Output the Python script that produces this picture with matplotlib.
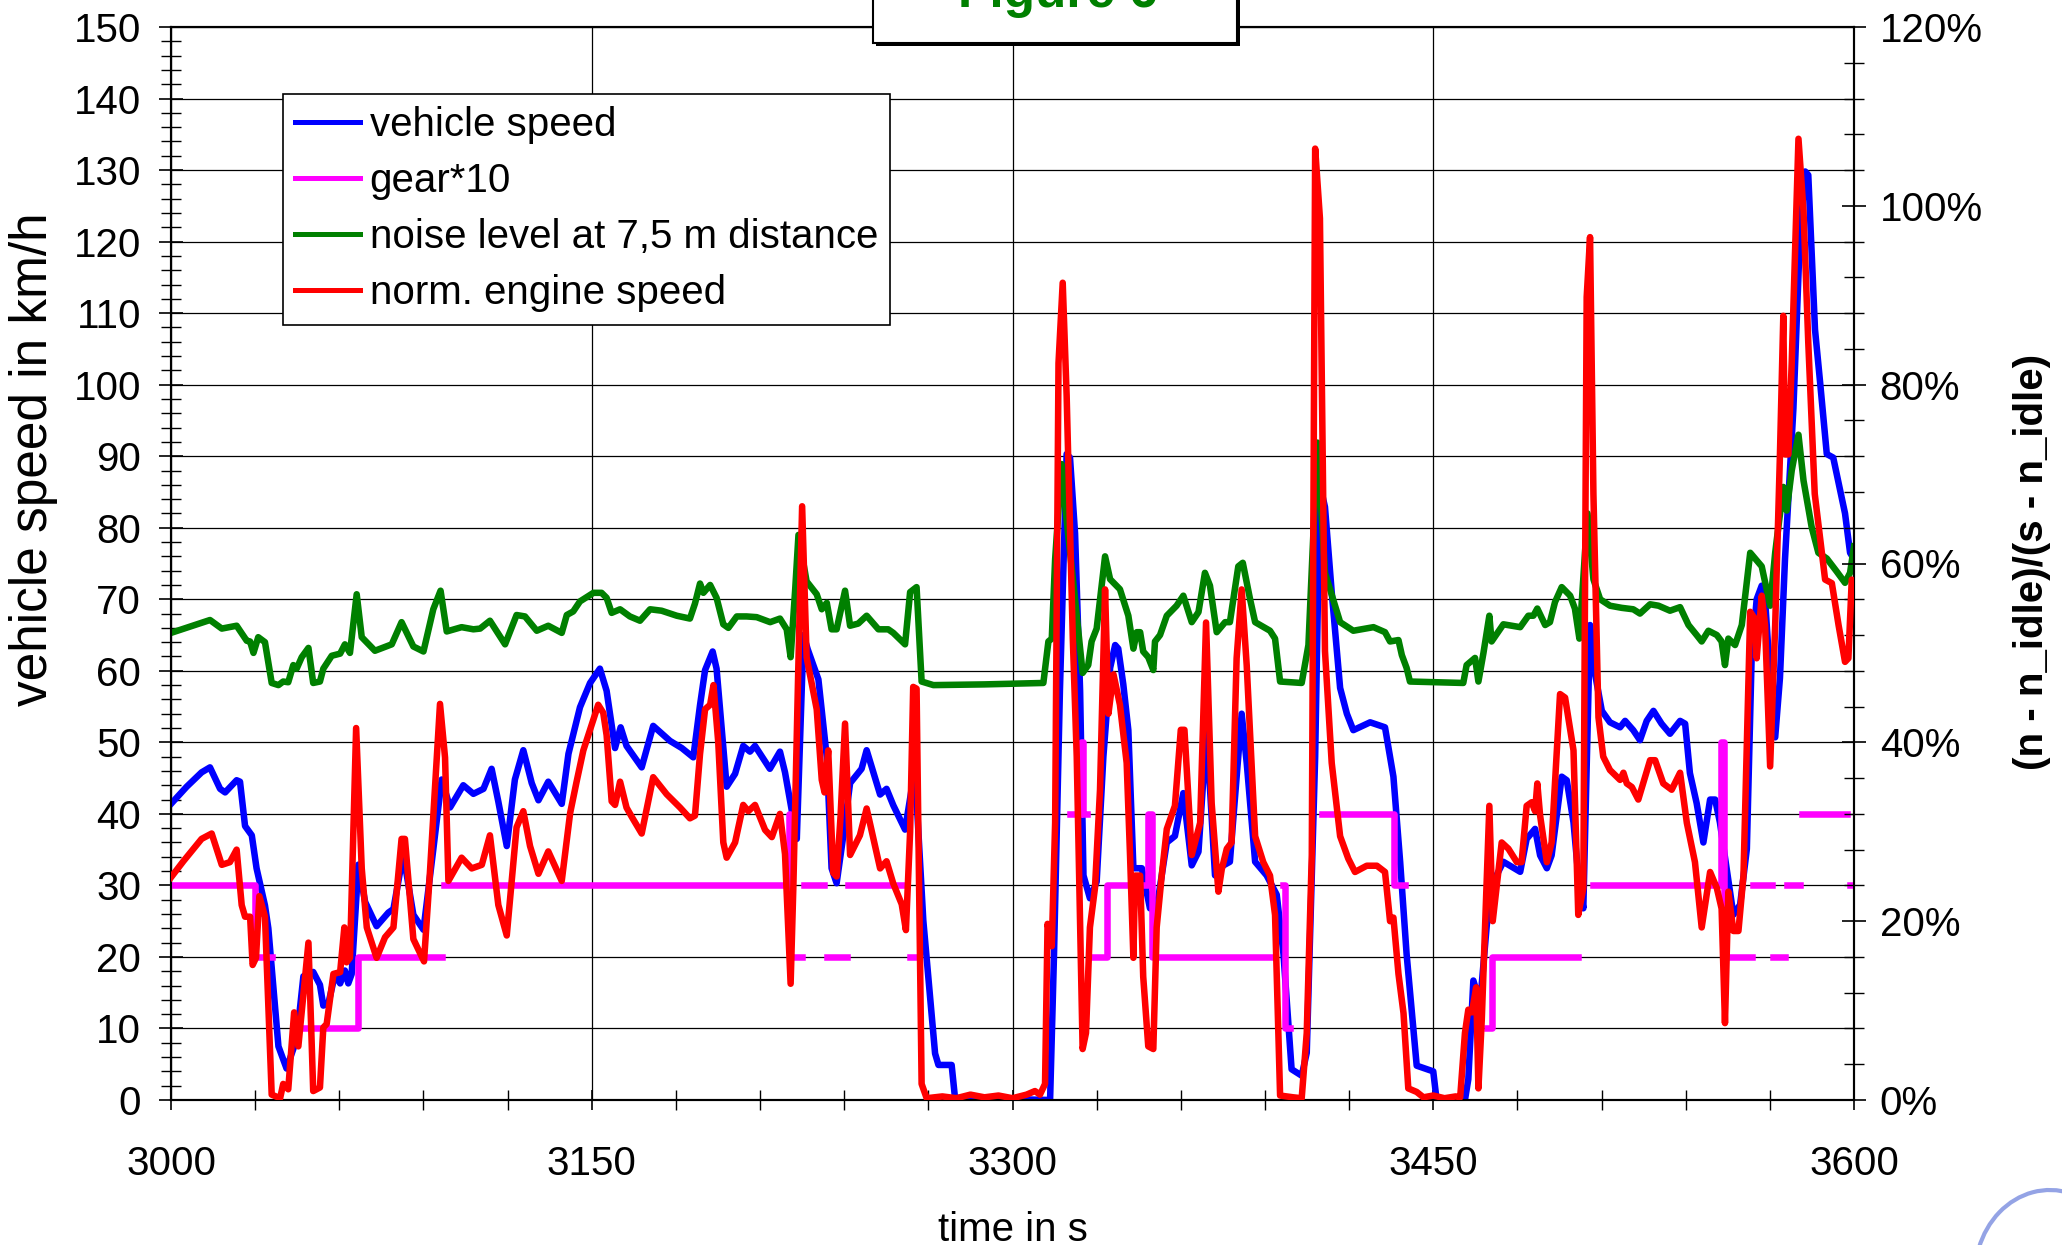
import numpy as np
import matplotlib
matplotlib.use("Agg")
import matplotlib.pyplot as plt
from matplotlib.patches import Rectangle, Arc
from matplotlib.ticker import MultipleLocator, FuncFormatter

plt.rcParams['font.family'] = ['Liberation Sans', 'DejaVu Sans']

nan = np.nan

# ---------------- data ----------------
speed_t = [3000, 3005.6, 3010.9, 3013.9, 3017.5, 3019.3, 3023.4, 3024.6, 3026.4, 3028.8, 3030.5, 3033.5,
           3034.7, 3038.3, 3041.2, 3044.8, 3047.2, 3050.7, 3053.1, 3054.3, 3056.1, 3058.5, 3060.3, 3062.0,
           3063.2, 3064.4, 3066.8, 3069.2, 3073.3, 3077.5, 3079.3, 3082.8, 3086.4, 3090.0, 3093.5, 3096.5,
           3099.5, 3104.2, 3107.8, 3111.4, 3114.3, 3116.7, 3119.7, 3122.6, 3125.6, 3128.6, 3131.0, 3134.5,
           3139.3, 3141.7, 3145.8, 3149.4, 3152.9, 3155.3, 3158.3, 3160.3, 3162.4, 3167.8, 3171.9, 3177.9,
           3182.1, 3186.2, 3188.6, 3190.4, 3193.1, 3194.5, 3198.1, 3201.1, 3204.0, 3206.4, 3208.2, 3213.5,
           3217.1, 3218.9, 3223.1, 3225.5, 3227.0, 3230.8, 3233.8, 3235.5, 3237.3, 3239.7, 3242.1, 3246.2,
           3248.0, 3252.8, 3255.1, 3257.5, 3261.7, 3265.2, 3268.2, 3272.4, 3273.6, 3278.3, 3279.5, 3313.4,
           3314.8, 3316.9, 3319.3, 3320.5, 3322.3, 3324.1, 3325.3, 3327.6, 3330.0, 3332.4, 3334.8, 3336.6,
           3337.7, 3339.5, 3341.3, 3343.1, 3346.1, 3349.0, 3351.4, 3355.0, 3357.9, 3360.9, 3363.9, 3366.3,
           3369.2, 3372.2, 3375.2, 3377.5, 3381.7, 3383.5, 3386.5, 3390.6, 3394.2, 3396.6, 3399.5, 3403.1,
           3404.9, 3407.9, 3409.6, 3411.4, 3413.8, 3416.8, 3419.2, 3421.5, 3427.5, 3432.8, 3435.8, 3438.2,
           3440.5, 3444.1, 3450.0, 3451.2, 3461.3, 3462.5, 3464.3, 3466.7, 3469.1, 3471.4, 3475.0, 3481.0,
           3483.3, 3486.3, 3488.1, 3490.5, 3492.2, 3495.8, 3497.6, 3500.0, 3501.7, 3503.5, 3505.9, 3507.1,
           3510.1, 3513.0, 3516.6, 3518.4, 3521.3, 3523.7, 3526.1, 3528.5, 3531.4, 3534.4, 3538.0, 3539.8,
           3541.5, 3543.9, 3546.3, 3548.7, 3550.5, 3552.2, 3554.6, 3557.0, 3559.4, 3561.8, 3563.5, 3565.3,
           3567.1, 3568.3, 3570.1, 3571.9, 3573.6, 3575.4, 3578.4, 3580.8, 3582.6, 3583.7, 3586.1, 3587.9,
           3590.3, 3592.6, 3596.8, 3598.6, 3600.0]
speed_v = [41.4, 43.8, 45.8, 46.5, 43.5, 43.0, 44.7, 44.5, 38.3, 37.0, 32.4, 27.2,
           24.0, 7.5, 4.4, 8.5, 17.3, 17.9, 16.1, 13.2, 13.5, 17.6, 16.3, 18.1,
           16.3, 17.6, 32.9, 27.7, 24.3, 26.2, 26.7, 34.4, 25.9, 23.8, 35.0, 44.8,
           40.9, 44.0, 42.8, 43.5, 46.3, 41.7, 35.5, 44.8, 48.9, 44.3, 41.9, 44.5,
           41.4, 48.4, 54.9, 58.3, 60.3, 57.2, 49.2, 52.1, 49.5, 46.5, 52.3, 50.2,
           49.2, 47.9, 55.2, 60.1, 62.7, 60.3, 43.8, 45.6, 49.5, 48.7, 49.5, 46.3,
           48.7, 45.8, 36.5, 65.0, 63.0, 58.8, 47.9, 32.4, 30.3, 37.0, 44.3, 46.3,
           48.9, 42.7, 43.5, 41.2, 37.8, 46.3, 25.1, 6.5, 4.9, 4.9, 0.3, 0.0,
           20.4, 57.2, 90.3, 89.8, 79.2, 57.2, 31.4, 28.2, 30.5, 48.0, 60.4, 63.6,
           63.1, 58.1, 51.7, 32.4, 32.4, 26.8, 26.8, 36.0, 36.9, 42.9, 32.8, 34.7,
           51.7, 31.4, 32.8, 33.3, 54.0, 47.1, 33.3, 31.4, 28.7, 20.4, 4.3, 3.4,
           6.6, 48.0, 86.0, 82.9, 71.0, 57.6, 54.0, 51.7, 52.8, 52.1, 45.2, 33.3,
           20.4, 4.8, 4.0, 0.0, 0.0, 2.9, 16.7, 13.5, 24.5, 30.5, 33.3, 31.9,
           36.5, 37.9, 34.2, 32.4, 34.2, 45.2, 44.7, 38.8, 31.4, 26.8, 66.4, 60.8,
           54.4, 52.8, 52.1, 53.0, 51.7, 50.3, 53.0, 54.4, 52.6, 51.2, 53.0, 52.6,
           45.7, 41.5, 36.0, 42.0, 42.0, 38.8, 32.4, 25.9, 27.3, 35.1, 61.8, 70.0,
           71.9, 70.0, 59.0, 50.7, 59.0, 75.6, 96.7, 121.5, 129.8, 129.3, 107.7, 100.4,
           90.3, 89.8, 82.0, 76.5, 75.6]

gear_t = [3000, 3030, 3036, 3046, 3066.5, 3096.5, 3097.5, 3220.3, 3220.8, 3225, 3225.7, 3232.8,
          3233.8, 3240.9, 3241.5, 3261.3, 3263.5, 3265.8, 3320.5, 3324.5, 3325.3, 3326.5, 3328.8,
          3333.6, 3348.2, 3349.8, 3392.4, 3396.3, 3397.0, 3399.0, 3410.2, 3436.0, 3440.0, 3469.0,
          3471.0, 3501.7, 3507.1, 3552.5, 3553.8, 3563.5, 3564.1, 3570.7, 3571.3, 3575.4, 3576.0,
          3580.8, 3581.4, 3597.4, 3598.6, 3600.0]
gear_v = [30, 20, nan, 10, 20, nan, 30, 40, 20, nan, 30, nan,
          20, nan, 30, nan, 20, nan, 40, 50, 40, nan, 20,
          30, 40, 20, nan, 30, 10, nan, 40, 30, nan, 10,
          20, nan, 30, 50, 20, nan, 30, nan, 20, nan, 30,
          nan, 40, nan, 30, 30]

noise_t = [3000, 3013.9, 3018.1, 3023.4, 3027.0, 3028.2, 3029.4, 3031.1, 3033.5, 3035.9, 3038.3, 3040.0,
           3041.8, 3043.6, 3044.8, 3046.6, 3049.0, 3050.7, 3053.1, 3054.3, 3057.3, 3060.3, 3062.0, 3063.8,
           3066.2, 3068.0, 3072.7, 3078.7, 3082.2, 3086.4, 3090.0, 3093.5, 3096.1, 3098.3, 3103.6, 3107.8,
           3110.2, 3113.7, 3119.1, 3123.2, 3126.2, 3130.4, 3134.5, 3139.3, 3141.1, 3143.4, 3145.8, 3150.6,
           3153.5, 3155.3, 3157.1, 3160.1, 3163.6, 3167.2, 3170.8, 3174.9, 3180.3, 3185.0, 3186.8, 3188.6,
           3189.8, 3192.2, 3194.5, 3196.9, 3198.7, 3201.7, 3205.2, 3208.8, 3213.6, 3217.1, 3219.5, 3220.9,
           3222.5, 3223.7, 3226.6, 3230.2, 3232.0, 3233.8, 3235.5, 3237.3, 3240.3, 3242.1, 3245.0, 3248.0,
           3252.2, 3255.7, 3257.5, 3261.7, 3263.5, 3265.8, 3267.6, 3271.8, 3290.0, 3311.0, 3312.8, 3314.0,
           3315.2, 3317.5, 3319.3, 3322.3, 3325.0, 3327.0, 3328.2, 3330.0, 3333.0, 3334.8, 3338.3, 3341.3,
           3343.1, 3344.3, 3345.5, 3346.6, 3348.4, 3350.2, 3350.8, 3352.6, 3355.0, 3358.5, 3360.9, 3363.9,
           3366.3, 3368.6, 3370.4, 3372.8, 3375.8, 3377.5, 3380.5, 3382.1, 3384.7, 3386.5, 3391.8, 3393.6,
           3395.4, 3403.1, 3405.5, 3408.7, 3411.4, 3416.8, 3421.5, 3428.7, 3432.8, 3434.6, 3437.6, 3438.8,
           3440.5, 3441.7, 3460.7, 3461.9, 3464.9, 3466.1, 3467.9, 3470.0, 3470.8, 3475.0, 3481.0, 3483.9,
           3485.7, 3487.1, 3489.9, 3491.6, 3493.4, 3495.8, 3498.8, 3500.5, 3502.1, 3505.0, 3507.1, 3509.5,
           3513.0, 3517.2, 3521.3, 3523.7, 3527.3, 3530.3, 3534.4, 3538.0, 3541.0, 3543.9, 3545.7, 3548.1,
           3551.1, 3552.8, 3554.0, 3555.2, 3557.6, 3560.0, 3563.0, 3567.1, 3570.1, 3571.9, 3574.8, 3576.0,
           3577.8, 3580.2, 3582.0, 3584.9, 3587.3, 3590.3, 3593.8, 3596.8, 3598.6, 3600.0]
noise_v = [65.3, 67.1, 65.9, 66.3, 64.2, 64.1, 62.5, 64.7, 64.0, 58.3, 58.0, 58.5,
           58.4, 60.8, 60.3, 61.9, 63.2, 58.3, 58.5, 60.3, 62.1, 62.4, 63.7, 62.5,
           70.7, 64.7, 62.8, 63.7, 66.8, 63.4, 62.7, 68.6, 71.2, 65.5, 66.1, 65.8,
           65.9, 67.0, 63.7, 67.8, 67.6, 65.6, 66.3, 65.3, 67.8, 68.3, 69.7, 70.9,
           70.9, 70.2, 68.1, 68.6, 67.6, 67.0, 68.6, 68.4, 67.7, 67.3, 69.4, 72.2,
           70.9, 72.0, 70.2, 66.5, 66.0, 67.6, 67.6, 67.5, 66.8, 67.3, 65.8, 61.9,
           71.2, 79.0, 72.5, 70.7, 68.6, 69.5, 65.8, 65.8, 71.2, 66.3, 66.6, 67.7,
           65.8, 65.8, 65.3, 63.7, 71.0, 71.7, 58.5, 58.0, 58.1, 58.3, 64.1, 64.5,
           75.6, 88.9, 81.1, 70.0, 59.7, 60.8, 64.1, 65.9, 76.0, 72.8, 71.4, 67.7,
           63.1, 65.4, 65.4, 62.7, 61.9, 60.1, 64.1, 65.0, 67.7, 69.1, 70.5, 66.8,
           68.2, 73.7, 71.9, 65.4, 66.8, 66.8, 74.6, 75.1, 70.0, 66.8, 65.6, 64.5,
           58.5, 58.3, 63.6, 91.9, 73.7, 66.8, 65.6, 66.1, 65.4, 64.1, 64.3, 62.2,
           60.4, 58.5, 58.3, 60.8, 61.8, 58.5, 62.5, 67.7, 64.1, 66.5, 66.1, 67.7,
           67.7, 68.7, 66.4, 66.8, 69.6, 71.7, 70.5, 68.7, 64.5, 82.0, 72.8, 70.0,
           69.1, 68.8, 68.6, 68.0, 69.3, 69.1, 68.4, 68.9, 66.4, 65.0, 64.1, 65.6,
           65.0, 64.1, 60.8, 64.5, 63.6, 66.4, 76.5, 74.6, 69.1, 76.5, 85.7, 82.4,
           88.0, 93.0, 86.6, 80.1, 76.5, 75.7, 73.9, 72.3, 73.7, 77.4]

engine_t = [3000, 3004.4, 3010.9, 3014.5, 3018.1, 3021.0, 3023.4, 3025.2, 3026.4, 3028.2, 3029.1, 3030.3,
            3031.5, 3033.5, 3035.9, 3038.9, 3040.0, 3041.8, 3043.9, 3045.4, 3049.0, 3050.7, 3053.1, 3054.3,
            3055.5, 3057.9, 3060.3, 3061.8, 3062.6, 3063.8, 3066.0, 3068.0, 3069.8, 3073.3, 3076.3, 3079.3,
            3082.2, 3083.4, 3086.4, 3090.2, 3092.3, 3095.9, 3097.7, 3098.9, 3103.6, 3107.2, 3110.8, 3113.7,
            3116.7, 3119.7, 3123.2, 3125.6, 3128.0, 3131.0, 3134.5, 3139.3, 3142.3, 3144.6, 3147.0, 3152.3,
            3154.1, 3155.3, 3157.1, 3158.3, 3160.1, 3162.4, 3164.2, 3167.8, 3171.9, 3176.7, 3181.5, 3185.0,
            3186.8, 3188.6, 3190.4, 3192.2, 3193.4, 3195.1, 3196.9, 3198.1, 3201.1, 3204.0, 3205.8, 3208.2,
            3211.8, 3214.2, 3217.1, 3218.9, 3220.9, 3221.9, 3223.6, 3225.0, 3226.6, 3230.2, 3232.0, 3233.0,
            3234.3, 3236.1, 3237.3, 3238.7, 3240.3, 3242.1, 3245.6, 3248.0, 3252.8, 3255.1, 3257.5, 3260.5,
            3262.0, 3263.5, 3264.6, 3265.8, 3267.6, 3269.4, 3275.0, 3280.0, 3285.0, 3290.0, 3295.0, 3300.0,
            3305.0, 3308.0, 3309.8, 3311.6, 3312.5, 3314.0, 3315.2, 3316.4, 3317.9, 3319.3, 3321.5, 3322.9,
            3325.0, 3326.2, 3327.6, 3329.4, 3331.2, 3333.0, 3334.2, 3336.0, 3338.3, 3340.7, 3341.9, 3343.1,
            3343.7, 3345.5, 3346.6, 3348.4, 3350.2, 3351.4, 3353.2, 3355.0, 3357.9, 3360.0, 3361.3, 3363.9,
            3366.9, 3369.0, 3371.0, 3373.4, 3374.6, 3376.4, 3378.1, 3379.9, 3381.7, 3383.5, 3386.5, 3389.4,
            3391.8, 3393.6, 3395.4, 3400.1, 3403.1, 3404.9, 3406.7, 3407.9, 3409.6, 3411.4, 3413.8, 3416.8,
            3419.7, 3422.1, 3426.3, 3429.9, 3432.8, 3434.6, 3435.8, 3437.6, 3439.4, 3441.1, 3444.1, 3446.5,
            3450.0, 3454.0, 3458.0, 3459.6, 3461.3, 3462.5, 3463.8, 3465.3, 3466.1, 3467.3, 3470.0, 3471.2,
            3474.4, 3476.8, 3479.8, 3481.5, 3483.3, 3485.1, 3486.3, 3487.1, 3488.1, 3490.5, 3492.2, 3495.2,
            3497.0, 3500.0, 3501.7, 3503.5, 3504.7, 3505.9, 3507.1, 3508.9, 3510.6, 3513.0, 3516.6, 3517.8,
            3519.0, 3520.8, 3523.1, 3527.3, 3529.1, 3532.0, 3535.0, 3538.0, 3540.4, 3543.3, 3545.7, 3548.7,
            3551.1, 3552.8, 3554.0, 3555.2, 3557.0, 3558.8, 3560.6, 3563.0, 3564.7, 3565.3, 3567.1, 3568.3,
            3570.1, 3571.9, 3573.6, 3574.8, 3575.4, 3576.6, 3577.8, 3580.2, 3582.0, 3583.7, 3586.0, 3589.7,
            3592.1, 3594.5, 3596.8, 3598.0, 3599.2, 3600.0]
engine_pct = [24.9, 26.7, 29.2, 29.8, 26.3, 26.6, 28.0, 21.8, 20.5, 20.5, 15.1, 15.9,
              22.8, 20.5, 0.6, 0.2, 1.8, 1.2, 9.8, 6.0, 17.6, 1.0, 1.4, 8.1,
              8.5, 14.1, 14.3, 19.3, 15.4, 15.9, 41.6, 25.9, 19.3, 15.9, 18.2, 19.3,
              29.2, 29.2, 18.0, 15.5, 25.4, 44.3, 38.3, 24.5, 27.1, 25.9, 26.3, 29.6,
              21.8, 18.4, 30.5, 32.3, 28.4, 25.3, 27.8, 24.5, 32.1, 35.6, 39.1, 44.2,
              43.3, 40.8, 33.4, 33.0, 35.6, 32.7, 31.7, 29.8, 36.1, 34.2, 32.7, 31.5,
              31.8, 38.7, 43.7, 44.2, 46.4, 40.0, 28.8, 27.1, 28.8, 33.0, 32.3, 33.0,
              30.2, 29.4, 32.0, 27.5, 13.0, 24.2, 47.8, 66.4, 49.5, 43.7, 35.8, 34.4,
              39.1, 25.4, 25.0, 31.7, 42.1, 27.4, 29.6, 32.6, 25.9, 26.7, 24.2, 21.9,
              19.0, 30.0, 46.2, 46.0, 1.8, 0.2, 0.4, 0.2, 0.6, 0.3, 0.5, 0.2,
              0.6, 1.0, 0.6, 1.8, 19.7, 17.2, 31.0, 82.4, 91.4, 78.8, 51.6, 38.4,
              5.7, 7.5, 19.3, 23.7, 34.7, 57.1, 43.2, 47.6, 44.2, 37.7, 27.4, 15.9,
              25.1, 25.1, 13.8, 6.0, 5.7, 19.3, 25.1, 30.3, 32.9, 41.4, 41.4, 27.4,
              31.0, 53.4, 33.2, 23.3, 25.8, 28.1, 28.8, 49.4, 57.1, 48.6, 29.5, 26.6,
              25.1, 20.7, 0.5, 0.3, 0.2, 7.5, 27.4, 106.4, 98.6, 50.2, 37.7, 29.5,
              27.0, 25.5, 26.2, 26.2, 25.5, 20.0, 20.4, 14.1, 9.7, 1.3, 0.9, 0.3,
              0.5, 0.2, 0.4, 0.3, 7.5, 10.1, 9.8, 12.6, 1.3, 9.0, 32.9, 20.0,
              28.8, 28.1, 26.6, 26.6, 32.9, 33.3, 32.3, 35.4, 31.8, 26.6, 28.8, 45.4,
              45.0, 39.1, 20.7, 23.7, 89.8, 96.5, 67.8, 42.8, 38.4, 36.9, 35.8, 36.6,
              35.4, 35.0, 33.6, 38.0, 38.0, 35.4, 34.7, 36.6, 31.0, 26.6, 19.3, 25.5,
              23.7, 21.4, 8.6, 23.3, 18.9, 18.9, 25.1, 54.6, 53.8, 49.4, 56.4, 53.1,
              37.3, 53.1, 72.2, 87.7, 72.2, 72.2, 82.5, 107.5, 99.4, 84.7, 67.8, 58.2,
              57.8, 53.1, 49.0, 49.4, 58.2, 57.8]

labels = ['vehicle speed', 'gear*10', 'noise level at 7,5 m distance', 'norm. engine speed']

# ---------------- figure ----------------
W, H = 2062, 1245
fig = plt.figure(figsize=(W / 100, H / 100), dpi=100)
ax = fig.add_axes([171 / W, 145 / H, 1683 / W, 1073 / H])
ax2 = ax.twinx()

lw = 4.7
l1, = ax.plot(speed_t, speed_v, color='#0000FF', lw=lw, zorder=3, solid_joinstyle='round')
l2, = ax.plot(gear_t, gear_v, color='#FF00FF', lw=lw, drawstyle='steps-post', zorder=4)
l3, = ax.plot(noise_t, noise_v, color='#008000', lw=lw, zorder=5, solid_joinstyle='round')
l4, = ax2.plot(engine_t, engine_pct, color='#FF0000', lw=lw, zorder=6, solid_joinstyle='round')

ax.set_xlim(3000, 3600)
ax.set_ylim(0, 150)
ax2.set_ylim(0, 120)

ax.xaxis.set_major_locator(MultipleLocator(150))
ax.xaxis.set_minor_locator(MultipleLocator(30))
ax.yaxis.set_major_locator(MultipleLocator(10))
ax.yaxis.set_minor_locator(MultipleLocator(2))
ax2.yaxis.set_major_locator(MultipleLocator(20))
ax2.yaxis.set_minor_locator(MultipleLocator(4))
ax2.yaxis.set_major_formatter(FuncFormatter(lambda v, p: f"{int(round(v))}%"))

ax.grid(which='major', color='black', lw=0.9)
ax.set_axisbelow(True)

ax.tick_params(axis='y', which='major', direction='inout', length=17, width=1.2, labelsize=29, pad=13)
ax.tick_params(axis='y', which='minor', direction='inout', length=14, width=1.0)
ax.tick_params(axis='x', which='major', direction='inout', length=15, width=1.2, labelsize=29, pad=25)
ax.tick_params(axis='x', which='minor', direction='inout', length=15, width=1.0)
ax2.tick_params(axis='y', which='major', direction='inout', length=17, width=1.2, labelsize=29, pad=10)
ax2.tick_params(axis='y', which='minor', direction='inout', length=14, width=1.0)

for a in (ax, ax2):
    for s in a.spines.values():
        s.set_linewidth(1.5)
        s.set_color('black')

# axis labels
fig.text(34 / W, 1 - 459 / H, 'vehicle speed in km/h', rotation=90, ha='center', va='center', fontsize=37)
fig.text(2032 / W, 1 - 562 / H, '(n - n_idle)/(s - n_idle)', rotation=90, ha='center', va='center',
         fontsize=29, fontweight='bold')
fig.text(1013 / W, 4 / H, 'time in s', ha='center', va='baseline', fontsize=29)

# legend
leg = ax2.legend([l1, l2, l3, l4], labels, loc='upper left',
                 bbox_to_anchor=(283 / W, 1 - 94 / H), bbox_transform=fig.transFigure,
                 fontsize=29, frameon=True, fancybox=False, edgecolor='black', framealpha=1,
                 borderpad=0.3, labelspacing=0.45, handlelength=1.6, handletextpad=0.25,
                 borderaxespad=0)
leg.get_frame().set_linewidth(1.2)
leg.set_zorder(20)
for h in leg.get_lines():
    h.set_linewidth(3.6)

# title box (partly outside the figure)
fig.add_artist(Rectangle((876 / W, 1 - 46 / H), 364 / W, 0.2, transform=fig.transFigure,
                         facecolor='black', edgecolor='none', zorder=10))
fig.add_artist(Rectangle((873 / W, 1 - 43 / H), 364 / W, 0.2, transform=fig.transFigure,
                         facecolor='white', edgecolor='black', lw=1.5, zorder=11))
fig.text(1058 / W, 1 - 7 / H, 'Figure 6', color='#008000', fontsize=37, fontweight='bold',
         ha='center', va='baseline', zorder=12)

# logo fragment bottom right
fig.add_artist(Arc((2050 / W, -30 / H), 150 / W, 170 / H, theta1=62, theta2=148,
                   transform=fig.transFigure, color='#7085dd', lw=3.0, alpha=0.75, zorder=10))

fig.savefig('out.png', dpi=100)
